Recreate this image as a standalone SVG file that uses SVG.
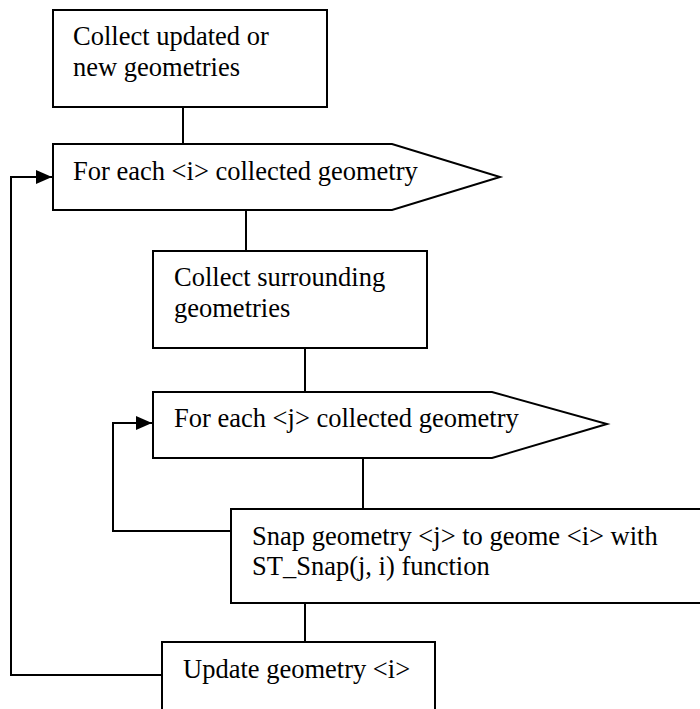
<svg xmlns="http://www.w3.org/2000/svg" width="700" height="709" viewBox="0 0 700 709">
<style>
.n{fill:#fff;stroke:#000;stroke-width:2}
.c{fill:none;stroke:#000;stroke-width:2}
text{font-family:"Liberation Serif","Times New Roman",serif;font-size:26.5px;fill:#000}
</style>
<defs>
<marker id="ah" markerUnits="userSpaceOnUse" markerWidth="16" markerHeight="14" refX="16" refY="7" orient="auto">
<path d="M0,0 L16,7 L0,14 Z" fill="#000"/>
</marker>
</defs>
<rect width="700" height="709" fill="#fff"/>
<g id="connectors">
<line class="c" x1="183" y1="107" x2="183" y2="144"/>
<line class="c" x1="246" y1="210" x2="246" y2="251"/>
<line class="c" x1="305" y1="348" x2="305" y2="392"/>
<line class="c" x1="363" y1="458" x2="363" y2="509"/>
<line class="c" x1="305" y1="603" x2="305" y2="642"/>
<polyline class="c" points="231,531 113,531 113,423 152,423" marker-end="url(#ah)"/>
<polyline class="c" points="162,675 11,675 11,177 52,177" marker-end="url(#ah)"/>
</g>
<g id="collect-new">
<rect class="n" x="53" y="10" width="274" height="97"/>
<text x="73" y="45">Collect updated or</text>
<text x="73" y="76">new geometries</text>
</g>
<g id="for-each-i">
<polygon class="n" points="53,144 392,144 500,177 392,210 53,210"/>
<text x="73" y="180">For each &lt;i&gt; collected geometry</text>
</g>
<g id="collect-surrounding">
<rect class="n" x="153" y="251" width="274" height="97"/>
<text x="174" y="286">Collect surrounding</text>
<text x="174" y="317">geometries</text>
</g>
<g id="for-each-j">
<polygon class="n" points="153,392 492,392 607,424 492,458 153,458"/>
<text x="174" y="427">For each &lt;j&gt; collected geometry</text>
</g>
<g id="snap">
<rect class="n" x="231" y="509" width="480" height="94"/>
<text x="252" y="545">Snap geometry &lt;j&gt; to geome &lt;i&gt; with</text>
<text x="252" y="575">ST_Snap(j, i) function</text>
</g>
<g id="update">
<rect class="n" x="162" y="642" width="273" height="80"/>
<text x="183" y="678">Update geometry &lt;i&gt;</text>
</g>
</svg>
